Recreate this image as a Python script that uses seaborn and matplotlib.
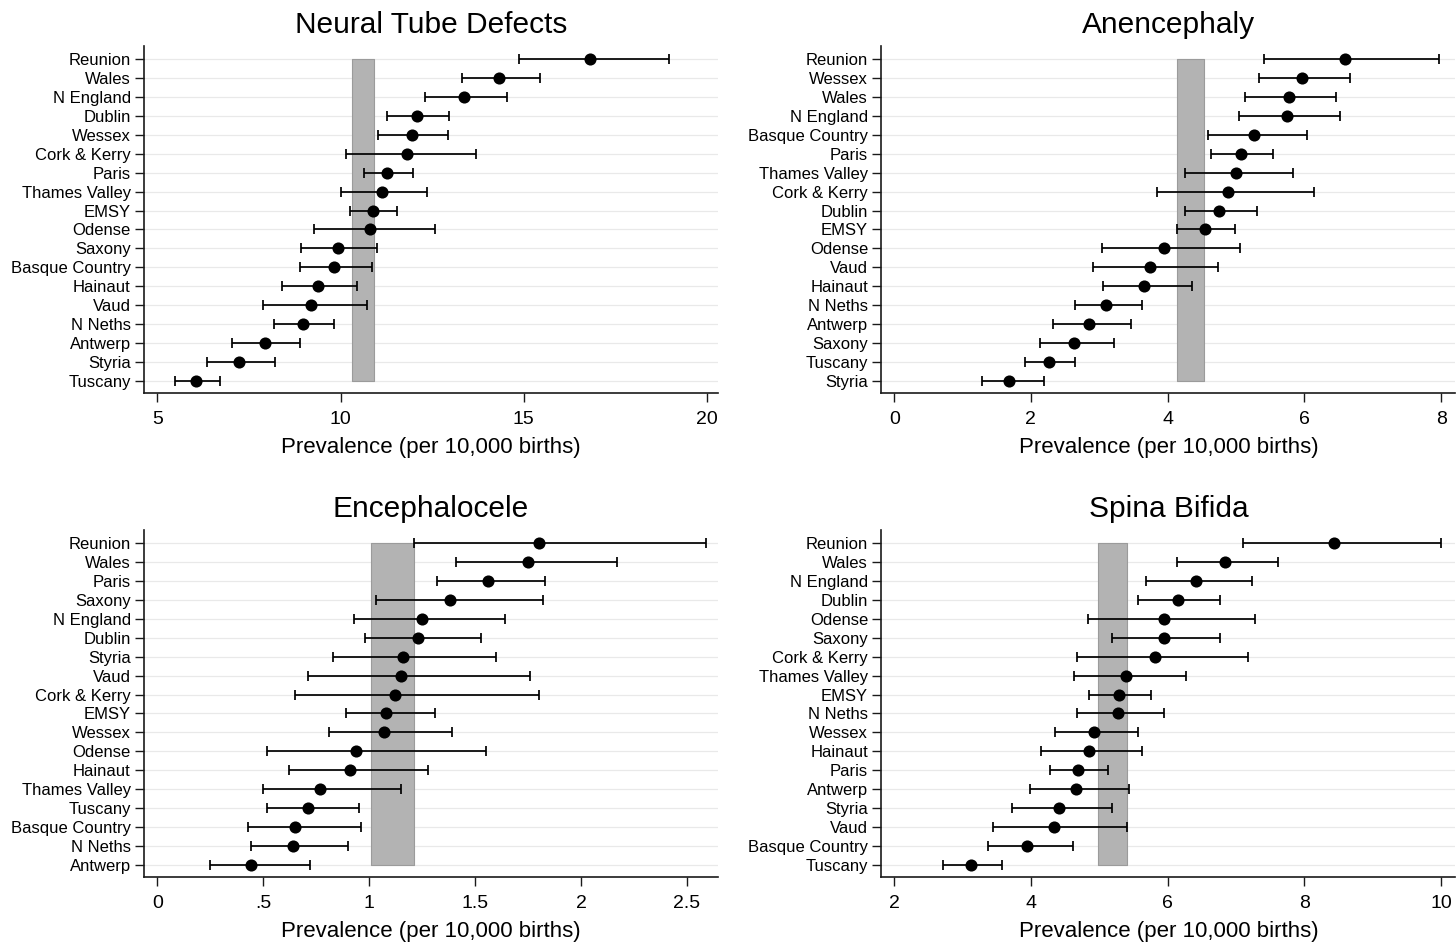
import numpy as np
import pandas as pd
import matplotlib
matplotlib.use("Agg")
import matplotlib.pyplot as plt
import seaborn as sns

sns.set_style("white")
plt.rcParams["font.family"] = ["Liberation Sans", "DejaVu Sans"]
plt.rcParams["text.color"] = "black"
plt.rcParams["axes.labelcolor"] = "black"
plt.rcParams["xtick.labelcolor"] = "black"
plt.rcParams["ytick.labelcolor"] = "black"

# ---- Neural tube defects (per 10,000 births) ----
ntd_regions = ["Reunion", "Wales", "N England", "Dublin", "Wessex", "Cork & Kerry",
               "Paris", "Thames Valley", "EMSY", "Odense", "Saxony", "Basque Country",
               "Hainaut", "Vaud", "N Neths", "Antwerp", "Styria", "Tuscany"]
ntd_est = [16.81, 14.33, 13.37, 12.09, 11.94, 11.81, 11.28, 11.12, 10.88, 10.81,
           9.93, 9.82, 9.39, 9.19, 8.97, 7.94, 7.22, 6.05]
ntd_lo = [14.87, 13.32, 12.31, 11.28, 11.03, 10.15, 10.63, 10.02, 10.25, 9.27,
          8.93, 8.88, 8.41, 7.87, 8.18, 7.03, 6.36, 5.48]
ntd_hi = [18.96, 15.44, 14.54, 12.97, 12.92, 13.69, 11.97, 12.36, 11.55, 12.57,
          10.99, 10.87, 10.45, 10.71, 9.83, 8.90, 8.22, 6.70]
ntd_band = [10.30, 10.92]

# ---- Anencephaly ----
anen_regions = ["Reunion", "Wessex", "Wales", "N England", "Basque Country", "Paris",
                "Thames Valley", "Cork & Kerry", "Dublin", "EMSY", "Odense", "Vaud",
                "Hainaut", "N Neths", "Antwerp", "Saxony", "Tuscany", "Styria"]
anen_est = [6.59, 5.97, 5.77, 5.75, 5.26, 5.07, 5.00, 4.89, 4.75, 4.54,
            3.95, 3.74, 3.65, 3.10, 2.85, 2.63, 2.26, 1.68]
anen_lo = [5.41, 5.34, 5.13, 5.04, 4.59, 4.64, 4.26, 3.84, 4.25, 4.14,
           3.04, 2.91, 3.06, 2.64, 2.33, 2.14, 1.91, 1.28]
anen_hi = [7.97, 6.67, 6.47, 6.52, 6.04, 5.54, 5.83, 6.14, 5.31, 4.99,
           5.06, 4.74, 4.35, 3.62, 3.46, 3.21, 2.64, 2.19]
anen_band = [4.13, 4.53]

# ---- Encephalocele ----
ence_regions = ["Reunion", "Wales", "Paris", "Saxony", "N England", "Dublin", "Styria",
                "Vaud", "Cork & Kerry", "EMSY", "Wessex", "Odense", "Hainaut",
                "Thames Valley", "Tuscany", "Basque Country", "N Neths", "Antwerp"]
ence_est = [1.80, 1.75, 1.56, 1.38, 1.25, 1.23, 1.16, 1.15, 1.12, 1.08,
            1.07, 0.94, 0.91, 0.77, 0.71, 0.65, 0.64, 0.44]
ence_lo = [1.21, 1.41, 1.32, 1.03, 0.93, 0.98, 0.83, 0.71, 0.65, 0.89,
           0.81, 0.52, 0.62, 0.50, 0.52, 0.43, 0.44, 0.25]
ence_hi = [2.59, 2.17, 1.83, 1.82, 1.64, 1.53, 1.60, 1.76, 1.80, 1.31,
           1.39, 1.55, 1.28, 1.15, 0.95, 0.96, 0.90, 0.72]
ence_band = [1.01, 1.21]

# ---- Spina bifida ----
sb_regions = ["Reunion", "Wales", "N England", "Dublin", "Odense", "Saxony",
              "Cork & Kerry", "Thames Valley", "EMSY", "N Neths", "Wessex", "Hainaut",
              "Paris", "Antwerp", "Styria", "Vaud", "Basque Country", "Tuscany"]
sb_est = [8.44, 6.84, 6.41, 6.15, 5.95, 5.94, 5.82, 5.39, 5.29, 5.27,
          4.93, 4.85, 4.69, 4.66, 4.41, 4.34, 3.94, 3.12]
sb_lo = [7.10, 6.14, 5.68, 5.57, 4.83, 5.18, 4.68, 4.63, 4.85, 4.67,
         4.35, 4.15, 4.28, 3.99, 3.73, 3.44, 3.37, 2.71]
sb_hi = [10.00, 7.61, 7.23, 6.77, 7.28, 6.77, 7.17, 6.27, 5.76, 5.94,
         5.57, 5.63, 5.13, 5.43, 5.19, 5.41, 4.62, 3.58]
sb_band = [4.98, 5.41]

XLABEL = "Prevalence (per 10,000 births)"
INK = "#1a1a1a"


def forest(ax, regions, est, lo, hi, band, title, xlim, xticks, xticklabels):
    n = len(regions)
    df = pd.DataFrame({"region": regions, "est": est, "lo": lo, "hi": hi,
                       "pos": np.arange(n)})

    # light horizontal guide at every region
    for p in df["pos"]:
        ax.axhline(p, color="#e9e9e9", lw=0.9, zorder=0)

    # pooled-estimate band across all regions
    ax.fill_betweenx([df["pos"].iloc[0], df["pos"].iloc[-1]], band[0], band[1],
                     facecolor="#b3b3b3", edgecolor="#9b9b9b", lw=0.8, zorder=1)

    ax.errorbar(df["est"], df["pos"],
                xerr=[df["est"] - df["lo"], df["hi"] - df["est"]],
                fmt="none", ecolor="black", elinewidth=1.25,
                capsize=3.6, capthick=1.25, zorder=2)
    sns.scatterplot(data=df, x="est", y="pos", ax=ax, color="black",
                    s=76, linewidth=0, zorder=3, legend=False)

    ax.set_ylim(n - 1 + 0.62, -0.70)
    ax.set_yticks(df["pos"])
    ax.set_yticklabels(df["region"], fontsize=12)
    ax.set_xlim(*xlim)
    ax.set_xticks(xticks)
    ax.set_xticklabels(xticklabels, fontsize=14)
    ax.set_ylabel("")
    ax.set_xlabel(XLABEL, fontsize=16, labelpad=6)
    ax.set_title(title, fontsize=21.5, pad=9)

    for side in ("top", "right"):
        ax.spines[side].set_visible(False)
    for side in ("left", "bottom"):
        ax.spines[side].set_color(INK)
        ax.spines[side].set_linewidth(1.2)
    ax.tick_params(axis="y", direction="out", length=6.5, width=1.0,
                   color=INK, pad=3, left=True)
    ax.tick_params(axis="x", direction="out", length=6.5, width=1.0,
                   color=INK, pad=7, bottom=True)


fig = plt.figure(figsize=(14.56, 9.47), dpi=100)
W, H = 0.3944, 0.3664
ax1 = fig.add_axes([144 / 1456, 0.5853, W, H])
ax2 = fig.add_axes([881.2 / 1456, 0.5853, W, H])
ax3 = fig.add_axes([144 / 1456, 0.0742, W, H])
ax4 = fig.add_axes([881.2 / 1456, 0.0742, W, H])

forest(ax1, ntd_regions, ntd_est, ntd_lo, ntd_hi, ntd_band,
       "Neural Tube Defects", (4.633, 20.31), [5, 10, 15, 20], ["5", "10", "15", "20"])
forest(ax2, anen_regions, anen_est, anen_lo, anen_hi, anen_band,
       "Anencephaly", (-0.19, 8.21), [0, 2, 4, 6, 8], ["0", "2", "4", "6", "8"])
forest(ax3, ence_regions, ence_est, ence_lo, ence_hi, ence_band,
       "Encephalocele", (-0.063, 2.648), [0, 0.5, 1, 1.5, 2, 2.5],
       ["0", ".5", "1", "1.5", "2", "2.5"])
forest(ax4, sb_regions, sb_est, sb_lo, sb_hi, sb_band,
       "Spina Bifida", (1.81, 10.21), [2, 4, 6, 8, 10], ["2", "4", "6", "8", "10"])

fig.savefig("out.png", dpi=100, facecolor="white")
